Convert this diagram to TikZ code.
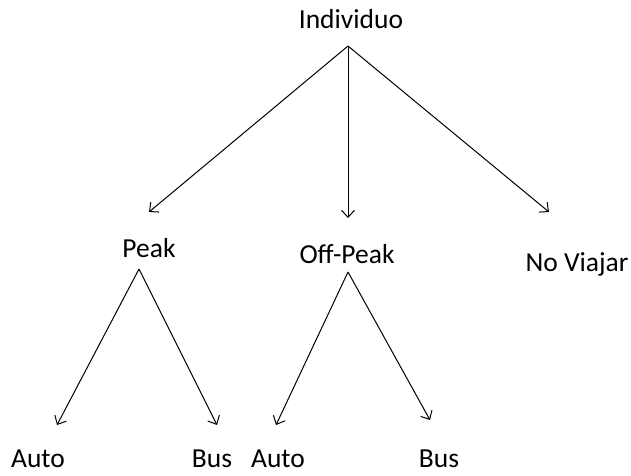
\documentclass[tikz,border=0pt]{standalone}
\usepackage{fontspec}
\setmainfont{Carlito}
\usetikzlibrary{arrows.meta}
\begin{document}
\begin{tikzpicture}[x=1pt,y=-1pt,
  lbl/.style={anchor=base,inner sep=0pt,text depth=0pt,font=\fontsize{27.5}{33}\selectfont},
  edge/.style={line width=1pt,-{Straight Barb[length=7pt,width=13pt,line width=1pt]}}]
\useasboundingbox (0,0) rectangle (631,475);
% labels
\node[lbl] (ind) at (351,28) {Individuo};
\node[lbl] (peak) at (149,257) {Peak};
\node[lbl] (off) at (347,263) {Off-Peak};
\node[lbl] (nov) at (577,271) {No Viajar};
\node[lbl] (a1) at (38,467) {Auto};
\node[lbl] (b1) at (212,467) {Bus};
\node[lbl] (a2) at (278,467) {Auto};
\node[lbl] (b2) at (439,467) {Bus};
% branch points and arrow ends
\coordinate (r) at (348,46);
\coordinate (rp) at (149,212);
\coordinate (ro) at (348,218);
\coordinate (rn) at (549,212);
\coordinate (p) at (139,269);
\coordinate (pa) at (57,425);
\coordinate (pb) at (217,425);
\coordinate (o) at (348,272);
\coordinate (oa) at (276,425);
\coordinate (ob) at (430,420);
% connectors
\draw[edge] (r) -- (rp);
\draw[edge] (r) -- (ro);
\draw[edge] (r) -- (rn);
\draw[edge] (p) -- (pa);
\draw[edge] (p) -- (pb);
\draw[edge] (o) -- (oa);
\draw[edge] (o) -- (ob);
\end{tikzpicture}
\end{document}
